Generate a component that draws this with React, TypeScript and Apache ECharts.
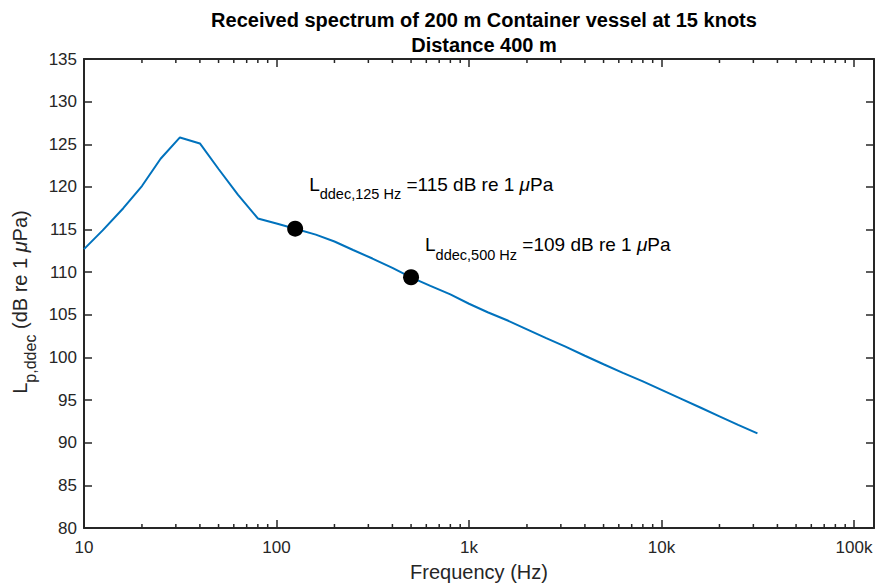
import React, { useEffect, useRef } from "react";
import * as echarts from "echarts";

// ---- data ----
const freqs = [10, 12.5, 16, 20, 25, 31.5, 40, 50, 63, 80, 100, 125, 160, 200, 250, 315, 400, 500, 630, 800, 1000, 1250, 1600, 2000, 2500, 3150, 4000, 5000, 6300, 8000, 10000, 12500, 16000, 20000, 25000, 31500];
const levels = [112.7, 114.9, 117.5, 120.1, 123.3, 125.8, 125.1, 122.1, 119.1, 116.3, 115.7, 115.1, 114.4, 113.6, 112.6, 111.6, 110.5, 109.4, 108.4, 107.4, 106.3, 105.3, 104.3, 103.3, 102.3, 101.3, 100.2, 99.2, 98.2, 97.2, 96.2, 95.2, 94.1, 93.1, 92.1, 91.1];
const markerFreqs = [125, 500];
const xTickValues = [10, 100, 1000, 10000, 100000];
const xTickLabels = ["10", "100", "1k", "10k", "100k"];
const minorTicks = [20, 30, 40, 50, 60, 70, 80, 90, 200, 300, 400, 500, 600, 700, 800, 900, 2000, 3000, 4000, 5000, 6000, 7000, 8000, 9000, 20000, 30000, 40000, 50000, 60000, 70000, 80000, 90000];
const xMin = 10;
const xMax = 127000;
const yMin = 80;
const yMax = 135;
const yStep = 5;
const titleText = "Received spectrum of 200 m Container vessel at 15 knots\nDistance 400 m";
const yNameText = "{main|L}{sub|p,ddec}{main| (dB re 1 }{mu|μ}{main|Pa)}";

const FONT = "'Liberation Sans', Arial, Helvetica, sans-serif";
const AXIS_COLOR = "#262626";

export default function App() {
  const ref = useRef<HTMLDivElement>(null);
  useEffect(() => {
    if (!ref.current) return;
    const chart = echarts.init(ref.current, null, { renderer: "svg" });

    const markerLevels = markerFreqs.map((f) => levels[freqs.indexOf(f)]);
    const labelPos = [[22, -46], [22, -34]];

    const annRich = {
      main: { fontSize: 19, fontFamily: FONT, color: "#000", verticalAlign: "top" },
      sub: { fontSize: 14.5, fontFamily: FONT, color: "#000", verticalAlign: "top", padding: [12, 0, 0, 0] },
      mu: { fontSize: 19, fontFamily: FONT, color: "#000", fontStyle: "italic", verticalAlign: "top" },
    };

    const xLabelFor = (v: number) => {
      const i = xTickValues.findIndex((t) => Math.abs(t - v) / t < 1e-6);
      return i >= 0 ? xTickLabels[i] : "";
    };

    const baseX = {
      type: "log",
      logBase: 10,
      min: xMin,
      max: xMax,
      axisLine: { show: true, lineStyle: { color: AXIS_COLOR, width: 2 } },
      axisTick: { show: true, inside: true, length: 8, lineStyle: { color: AXIS_COLOR, width: 1.5 } },
      splitLine: { show: false },
      minorTick: { show: false },
    };
    const baseY = {
      type: "value",
      min: yMin,
      max: yMax,
      interval: yStep,
      axisLine: { show: true, lineStyle: { color: AXIS_COLOR, width: 2 } },
      axisTick: { show: true, inside: true, length: 8, lineStyle: { color: AXIS_COLOR, width: 1.5 } },
      splitLine: { show: false },
    };

    chart.setOption({
      animation: false,
      backgroundColor: "#fff",
      title: {
        text: titleText,
        left: 479,
        top: 2,
        textAlign: "center",
        textStyle: { fontFamily: FONT, fontSize: 20, fontWeight: "bold", color: "#000", lineHeight: 25 },
      },
      graphic: [
        {
          type: "text",
          x: 24,
          y: 302,
          rotation: Math.PI / 2,
          style: {
            text: yNameText,
            align: "center",
            verticalAlign: "middle",
            rich: {
              main: { fontSize: 20, fontFamily: FONT, fill: AXIS_COLOR, verticalAlign: "top" },
              sub: { fontSize: 16, fontFamily: FONT, fill: AXIS_COLOR, verticalAlign: "top", padding: [12, 0, 0, 0] },
              mu: { fontSize: 20, fontFamily: FONT, fill: AXIS_COLOR, fontStyle: "italic", verticalAlign: "top" },
            },
          },
        },
      ],
      grid: { left: 84, right: 8, top: 59, bottom: 57, containLabel: false },
      xAxis: [
        {
          ...baseX,
          position: "bottom",
          name: "Frequency (Hz)",
          nameLocation: "middle",
          nameGap: 34,
          nameTextStyle: { fontFamily: FONT, fontSize: 20, color: AXIS_COLOR },
          axisLabel: { show: true, margin: 11, fontFamily: FONT, fontSize: 17, color: AXIS_COLOR, formatter: xLabelFor, showMaxLabel: false },
        },
        { ...baseX, position: "top", axisLabel: { show: false } },
      ],
      yAxis: [
        {
          ...baseY,
          position: "left",
          axisLabel: { show: true, margin: 7, fontFamily: FONT, fontSize: 17, color: AXIS_COLOR },
        },
        { ...baseY, position: "right", axisLabel: { show: false } },
      ],
      series: [
        {
          type: "custom",
          xAxisIndex: 0,
          yAxisIndex: 0,
          silent: true,
          clip: false,
          data: minorTicks.map((f) => [f, yMin]),
          renderItem: (params: any, api: any) => {
            const f = api.value(0);
            const b = api.coord([f, yMin]);
            const t = api.coord([f, yMax]);
            const style = { stroke: AXIS_COLOR, lineWidth: 1.5 };
            return {
              type: "group",
              children: [
                { type: "line", shape: { x1: b[0], y1: b[1], x2: b[0], y2: b[1] - 4 }, style },
                { type: "line", shape: { x1: t[0], y1: t[1], x2: t[0], y2: t[1] + 4 }, style },
              ],
            };
          },
        },
        {
          type: "line",
          xAxisIndex: 0,
          yAxisIndex: 0,
          data: freqs.map((f, i) => [f, levels[i]]),
          showSymbol: false,
          symbol: "none",
          lineStyle: { color: "#0072BD", width: 2 },
          z: 3,
        },
        {
          type: "scatter",
          xAxisIndex: 0,
          yAxisIndex: 0,
          symbol: "circle",
          symbolSize: 16,
          itemStyle: { color: "#000", opacity: 1 },
          z: 4,
          data: markerFreqs.map((f, i) => ({
            value: [f, markerLevels[i]],
            label: {
              show: true,
              position: labelPos[i],
              align: "left",
              verticalAlign: "top",
              formatter: `{main|L}{sub|ddec,${f} Hz}{main| =${Math.round(markerLevels[i])} dB re 1 }{mu|μ}{main|Pa}`,
              rich: annRich,
            },
          })),
        },
      ],
    });
    return () => chart.dispose();
  }, []);

  return (
    <div
      ref={ref}
      style={{ position: "fixed", left: 0, top: 0, width: 882, height: 587, background: "#fff" }}
    />
  );
}
